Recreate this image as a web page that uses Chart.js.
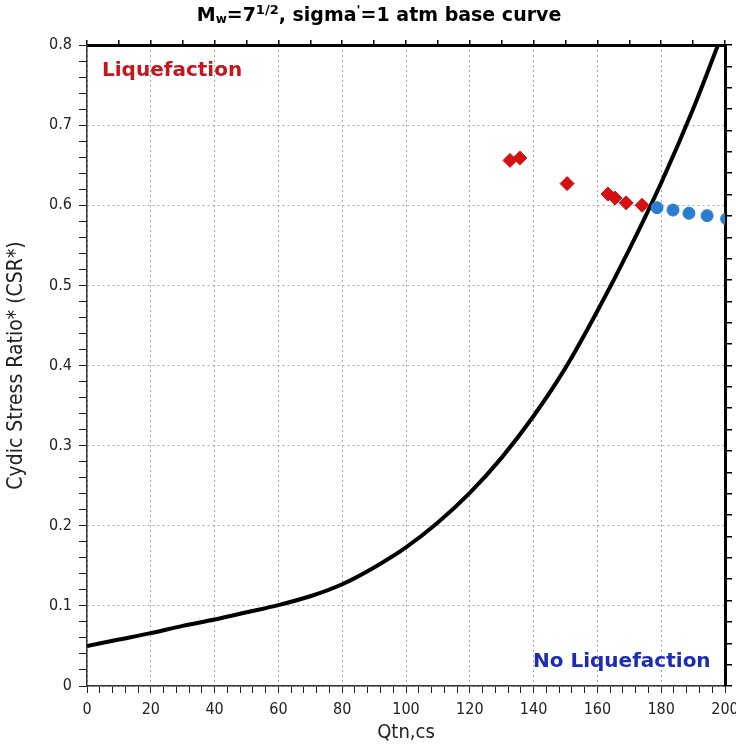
<!DOCTYPE html>
<html>
<head>
<meta charset="utf-8">
<script src="https://cdn.jsdelivr.net/npm/chart.js@4.4.1/dist/chart.umd.min.js"></script>
<style>
  body { margin: 0; background: #fff; }
  #wrap { position: relative; width: 736px; height: 745px; overflow: hidden; }
  #title { position: absolute; left: 0; top: 2px; width: 758px; text-align: center;
           font: bold 19px 'DejaVu Sans', sans-serif; color: #000; }
  #title sub { font-size: 12px; vertical-align: -2px; }
  #title sup { font-size: 13px; vertical-align: 7px; }
  .note { position: absolute; font: bold 20px 'DejaVu Sans', sans-serif; }
  #liq { left: 102px; top: 57px; color: #c8141c; }
  #noliq { left: 533px; top: 648px; color: #1c2cb4; }
</style>
</head>
<body>
<div id="wrap">
  <canvas id="grafico" width="736" height="745"></canvas>
  <div id="title">M<sub>w</sub>=7<sup>1/2</sup>, sigma<sup>'</sup>=1 atm base curve</div>
  <div class="note" id="liq">Liquefaction</div>
  <div class="note" id="noliq">No Liquefaction</div>
</div>
<script>
// base curve
const curveQ = [0, 10, 20, 30, 40, 50, 60, 70, 80, 90, 100, 110, 120, 130, 140, 150, 160, 170, 180, 190, 198];
const curveCSR = [0.050, 0.058, 0.066, 0.075, 0.083, 0.092, 0.101, 0.112, 0.127, 0.148, 0.173, 0.204, 0.241, 0.285, 0.337, 0.397, 0.468, 0.545, 0.628, 0.720, 0.802];

// points above the curve (liquefaction)
const redQ = [132.6, 135.7, 150.5, 163.3, 165.5, 169.0, 174.0];
const redCSR = [0.656, 0.659, 0.627, 0.614, 0.609, 0.603, 0.600];

// points below the curve
const blueQ = [178.7, 183.7, 188.7, 194.4, 200.5];
const blueCSR = [0.597, 0.594, 0.590, 0.587, 0.583];

const xTicks = [0, 20, 40, 60, 80, 100, 120, 140, 160, 180, 200];
const yTicks = ['0', '0.1', '0.2', '0.3', '0.4', '0.5', '0.6', '0.7', '0.8'];

const tickFont = { family: "'DejaVu Sans Condensed', sans-serif", size: 16 };

const pares = (xs, ys) => xs.map((x, i) => ({ x: x, y: ys[i] }));
const isMajorY = v => Math.round(v * 100) % 10 === 0;

const ctx = document.getElementById('grafico').getContext('2d');
const grafico = new Chart(ctx, {
  type: 'scatter',
  data: {
    datasets: [
      {
        label: 'base curve',
        data: pares(curveQ, curveCSR),
        showLine: true,
        borderColor: '#000',
        borderWidth: 4,
        pointRadius: 0,
        cubicInterpolationMode: 'monotone',
        order: 3
      },
      {
        label: 'Liquefaction',
        data: pares(redQ, redCSR),
        pointStyle: 'rectRot',
        pointRadius: 7,
        backgroundColor: '#d41010',
        borderColor: '#d41010',
        borderWidth: 1,
        clip: 0,
        order: 1
      },
      {
        label: 'No Liquefaction',
        data: pares(blueQ, blueCSR),
        pointStyle: 'circle',
        pointRadius: 6,
        backgroundColor: '#2a7ed0',
        borderColor: '#2a7ed0',
        borderWidth: 1,
        clip: 0,
        order: 2
      }
    ]
  },
  options: {
    responsive: false,
    animation: false,
    layout: { padding: 0 },
    plugins: { legend: { display: false }, tooltip: { enabled: false } },
    scales: {
      x: {
        type: 'linear', position: 'bottom', min: 0, max: 200,
        afterFit: s => { s.height = 59; s.paddingLeft = 0; s.paddingRight = 0; },
        ticks: {
          stepSize: 4, autoSkip: false, maxRotation: 0, padding: 7, color: '#222', font: tickFont,
          callback: v => xTicks.includes(v) ? String(v) : ''
        },
        grid: {
          color: c => (c.tick && xTicks.includes(c.tick.value)) ? '#a8a8a8' : 'rgba(0,0,0,0)',
          tickColor: '#222', tickLength: 7, lineWidth: 1
        },
        border: { color: '#333', width: 1.5, dash: [2, 3] },
        title: {
          display: true, text: 'Qtn,cs', color: '#222',
          font: { family: "'DejaVu Sans Condensed', sans-serif", size: 20 },
          padding: { top: 0, bottom: 0 }
        }
      },
      x2: {
        type: 'linear', position: 'top', min: 0, max: 200,
        afterFit: s => { s.height = 45; s.paddingLeft = 0; s.paddingRight = 0; },
        ticks: { stepSize: 10, autoSkip: false, callback: () => '' },
        grid: { drawOnChartArea: false, tickColor: '#000', tickLength: 5, lineWidth: 1.5 },
        border: { color: '#000', width: 3 }
      },
      y: {
        type: 'linear', position: 'left', min: 0, max: 0.8,
        afterFit: s => { s.width = 87; s.paddingTop = 0; s.paddingBottom = 0; },
        ticks: {
          stepSize: 0.02, autoSkip: false, padding: 7, color: '#222', font: tickFont,
          callback: v => isMajorY(v) ? yTicks[Math.round(v * 10)] : ''
        },
        grid: {
          color: c => (c.tick && isMajorY(c.tick.value)) ? '#a8a8a8' : 'rgba(0,0,0,0)',
          tickColor: '#222', tickLength: 8, lineWidth: 1
        },
        border: { color: '#333', width: 1.5, dash: [2, 3] },
        title: {
          display: true, text: 'Cydic Stress Ratio* (CSR*)', color: '#222',
          font: { family: "'DejaVu Sans Condensed', sans-serif", size: 21 },
          padding: { top: 4, bottom: 0 }
        }
      },
      y2: {
        type: 'linear', position: 'right', min: 0, max: 0.8,
        afterFit: s => { s.width = 11; s.paddingTop = 0; s.paddingBottom = 0; },
        ticks: { stepSize: 0.8 / 30, autoSkip: false, callback: () => '' },
        grid: { drawOnChartArea: false, tickColor: '#000', tickLength: 7, lineWidth: 1.5 },
        border: { color: '#000', width: 3 }
      }
    }
  }
});
</script>
</body>
</html>
